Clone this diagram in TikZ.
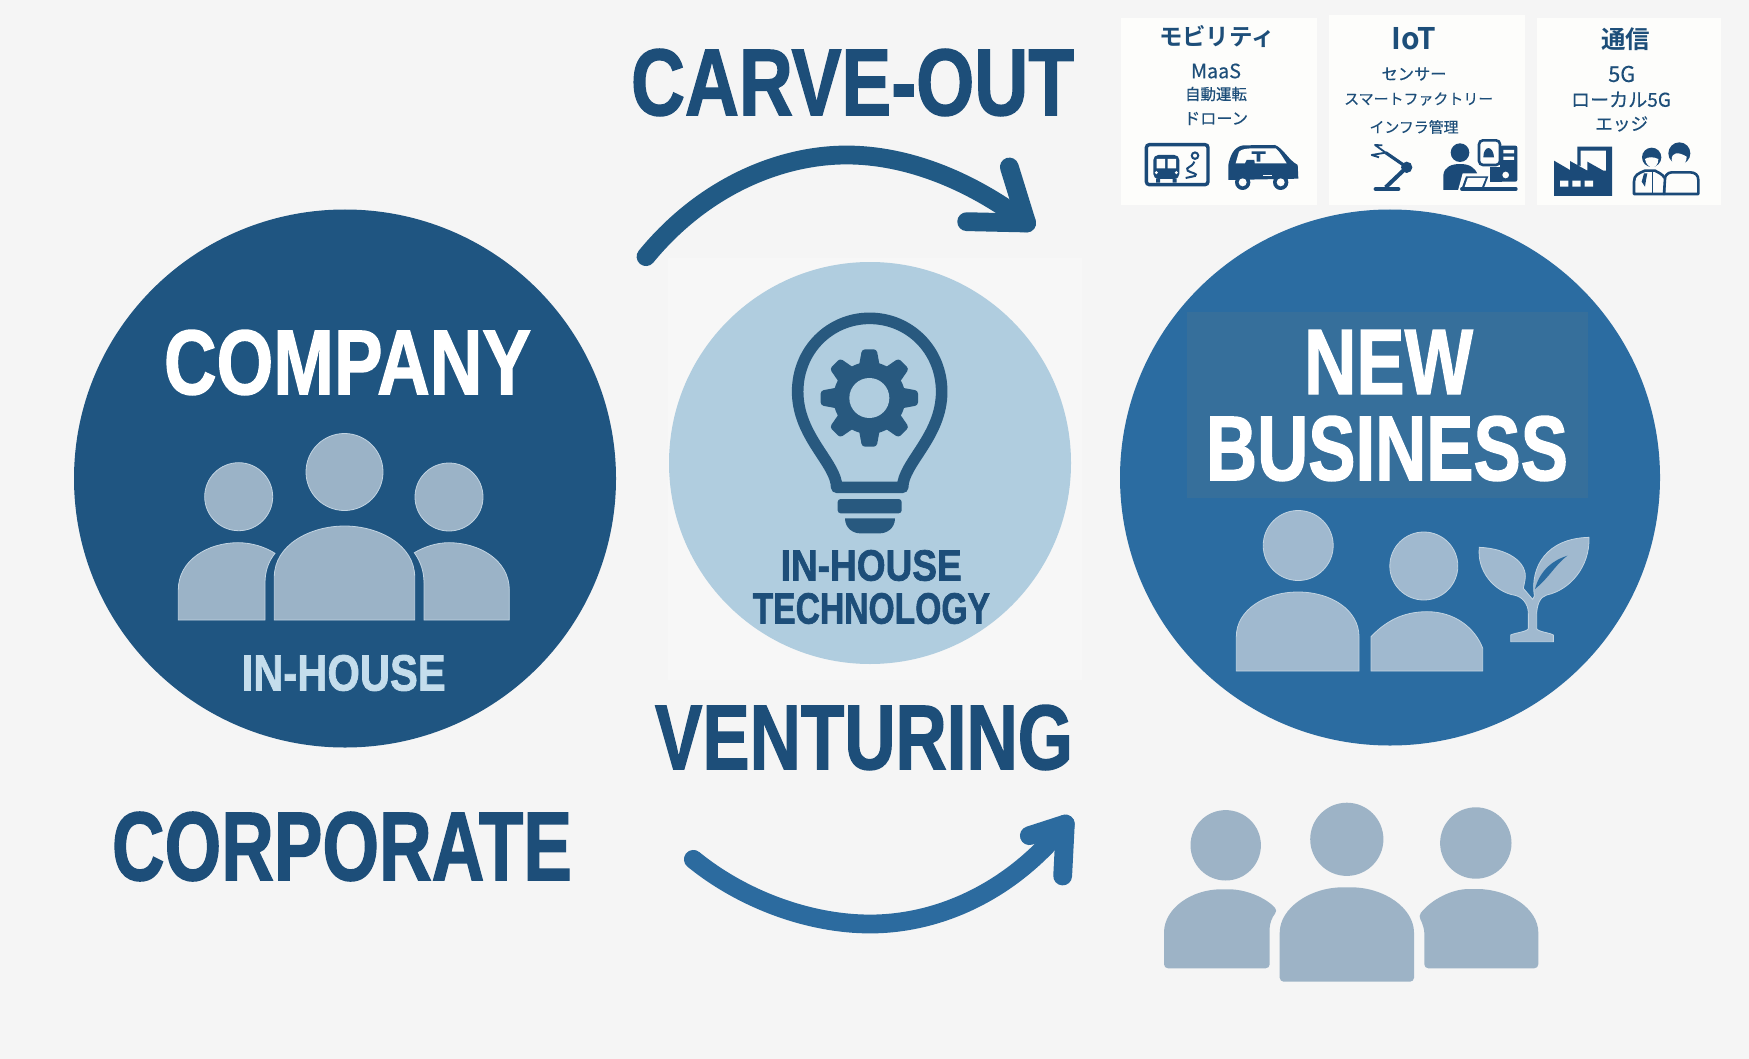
\documentclass[tikz,border=0pt]{standalone}
\usepackage{fontspec}
\setmainfont{Liberation Sans}
\newfontfamily\headfont[FakeBold=1.6]{Liberation Sans Bold}
\newfontfamily\jpfont[FakeBold=0.35]{Noto Sans CJK JP}
\newfontfamily\jpboldfont{Noto Sans CJK JP Bold}
\definecolor{bgc}{HTML}{F5F5F5}
\definecolor{paneC}{HTML}{F7F7F7}
\definecolor{cardC}{HTML}{FDFDFB}
\definecolor{darkC}{HTML}{1F5581}
\definecolor{midC}{HTML}{2B6CA1}
\definecolor{bandC}{HTML}{366F9B}
\definecolor{paleC}{HTML}{B0CDDF}
\definecolor{inkC}{HTML}{1D4E79}
\definecolor{iconC}{HTML}{1B4A78}
\definecolor{bulbC}{HTML}{28597F}
\definecolor{compP}{HTML}{9BB3C7}
\definecolor{newP}{HTML}{A0B9CF}
\definecolor{botP}{HTML}{9DB3C6}
\definecolor{rimC}{HTML}{C2D4E2}
\definecolor{tagC}{HTML}{C4DDEC}
\definecolor{arrowA}{HTML}{215A85}
\definecolor{arrowB}{HTML}{2C6B9F}
\tikzset{
  x=0.5pt,y=-0.5pt,
  lbl/.style={inner sep=0pt,outer sep=0pt},
  card/.style={fill=cardC},
  arrowline/.style={line width=9.4pt,line cap=round,line join=round},
  compfill/.style={fill=compP,draw=rimC,line width=0.4pt},
  newfill/.style={fill=newP,draw=rimC,line width=0.4pt},
  zoomed/.style={scale=0.33333},
}
% fitted label: name, x1, x2, y1, y2, colour, text
\newcommand{\fitlbl}[7]{%
  \pgfmathsetlengthmacro\lw{(#3-#2)*0.5}%
  \pgfmathsetlengthmacro\lh{(#5-#4)*0.5}%
  \node[lbl,text=#6] (#1) at ({(#2+#3)/2},{(#4+#5)/2})
    {\resizebox*{\lw}{\lh}{\headfont\fontsize{40}{44}\selectfont #7}};}
% Japanese label: name, cx, cy, width in px, font switch, text
\newcommand{\jplbl}[6]{%
  \pgfmathsetlengthmacro\lw{#4*0.5}%
  \node[lbl,text=inkC] (#1) at (#2,#3)
    {\resizebox{\lw}{!}{#5\fontsize{20}{24}\selectfont #6}};}
\begin{document}
\begin{tikzpicture}
\useasboundingbox (0,0) rectangle (1749,1059);
\fill[bgc] (0,0) rectangle (1749,1059);
\fill[paneC] (668,258) rectangle (1082,680);

% main circles
\fill[darkC] (345,478.5) ellipse [x radius=271,y radius=269];
\fill[midC] (1390,477.5) ellipse [x radius=270,y radius=268];
\fill[paleC] (870,463) circle [radius=201];
\fill[bandC] (1187,312) rectangle (1588,498);

% company people
\path[compfill] (238.7,496.7) circle [radius=34];
\path[compfill] (344.5,472) circle [radius=38.5];
\path[compfill] (449,497) circle [radius=34];
\path[compfill] (178.3,620) -- (178.3,590) .. controls (178.3,560) and (208,542.7) .. (238,542.7) .. controls (252,542.7) and (265,547) .. (275,553.3) .. controls (268,562) and (265,572) .. (265,583) -- (265,620) -- cycle;
\path[compfill] (274.3,620) -- (274.3,577) .. controls (274.3,545) and (310,526) .. (344.5,526) .. controls (379,526) and (414.7,545) .. (414.7,577) -- (414.7,620) -- cycle;
\path[compfill] (509.3,620) -- (509.3,590) .. controls (509.3,560) and (479,542.7) .. (449,542.7) .. controls (436,542.7) and (424,547) .. (414.3,552.7) .. controls (421,562) and (424,572) .. (424,583) -- (424,620) -- cycle;

% new business people
\path[newfill] (1298.2,545.5) circle [radius=35];
\path[newfill] (1423.8,566) circle [radius=34];
\path[newfill] (1236.3,671) -- (1236.3,636.7) .. controls (1236.3,610) and (1265,592) .. (1298,592) .. controls (1331,592) and (1359,610) .. (1359,636.7) -- (1359,671) -- cycle;
\path[newfill] (1371,671) -- (1371,636.7) .. controls (1385,622) and (1402,611.7) .. (1427,611.7) .. controls (1455,611.7) and (1475,628) .. (1482.7,648.3) -- (1482.7,671) -- cycle;

% plant
\begin{scope}[shift={(1200,490)},zoomed]
\path[newfill] (932,455) -- (932,435) .. controls (945,428) and (985,425) .. (985,415) -- (985,370) .. controls (985,340) and (965,320) .. (945,316) .. controls (880,305) and (830,240) .. (838,172) .. controls (920,175) and (985,215) .. (975,270) -- (970,295) -- (998,328) -- (1003,318) .. controls (990,230) and (1040,145) .. (1167,142) .. controls (1170,230) and (1110,300) .. (1040,315) .. controls (1020,320) and (1010,345) .. (1010,375) -- (1010,415) .. controls (1010,425) and (1050,428) .. (1060,435) -- (1060,455) -- cycle;
\fill[midC] (1005,297) .. controls (1020,240) and (1060,210) .. (1102,197) .. controls (1065,225) and (1050,260) .. (1005,297) -- cycle;
\end{scope}

% bottom people
\fill[botP] (1225.7,845.3) circle [radius=35.2];
\fill[botP] (1346.8,839.3) circle [radius=36.6];
\fill[botP] (1475.8,843) circle [radius=35.7];
\fill[botP,rounded corners=2pt] (1164,968.3) -- (1164,936.7) .. controls (1164,908) and (1192,889.3) .. (1225,889.3) .. controls (1245,889.3) and (1265,897) .. (1277.7,910.7) .. controls (1272,917) and (1269.7,924) .. (1269.7,931.7) -- (1269.7,968.3) -- cycle;
\fill[botP,rounded corners=2pt] (1279.7,981.7) -- (1279.7,936.7) .. controls (1279.7,908) and (1310,887.3) .. (1347,887.3) .. controls (1384,887.3) and (1414,908) .. (1414,936.7) -- (1414,981.7) -- cycle;
\fill[botP,rounded corners=2pt] (1538.3,968.3) -- (1538.3,936.7) .. controls (1538.3,908) and (1508,889) .. (1473,889) .. controls (1452,889) and (1432,899) .. (1418.3,916) .. controls (1422,922) and (1424.3,929) .. (1424.3,936.7) -- (1424.3,968.3) -- cycle;

% bulb
\begin{scope}[shift={(660,250)},zoomed]
\draw[bulbC,line width=5.8pt,line join=round] (530,712) .. controls (530,640) and (413,560) .. (413,425) .. controls (413,300) and (510,205) .. (629,205) .. controls (748,205) and (845,300) .. (845,425) .. controls (845,560) and (728,640) .. (728,712) -- cycle;
\fill[bulbC,rounded corners=1.5pt] (533,747) rectangle (725,790);
\fill[bulbC] (555,805) -- (705,805) .. controls (705,835) and (680,850) .. (660,850) -- (600,850) .. controls (580,850) and (555,835) .. (555,805) -- cycle;
\fill[bulbC] (628,444) circle [radius=108];
\foreach \a in {0,45,...,315}{
  \fill[bulbC,rotate around={\a:(628,444)},rounded corners=1.5pt] (596,352) -- (606,298) -- (650,298) -- (660,352) -- cycle;
}
\fill[paleC] (628,444) circle [radius=60];
\end{scope}

% arrows
\begin{scope}[shift={(620,130)},zoomed]
\coordinate (upStart) at (78,380);
\coordinate (upApex) at (680,75);
\coordinate (upEnd) at (1220,279);
\coordinate (upBarbA) at (1168,111);
\coordinate (upBarbB) at (1040,275);
\draw[arrowA,arrowline] (upStart) .. controls (250,170) and (480,75) .. (upApex) .. controls (860,75) and (1050,150) .. (upEnd);
\draw[arrowA,arrowline] (upBarbA) -- (upEnd) -- (upBarbB);
\end{scope}
\begin{scope}[shift={(670,800)},zoomed]
\coordinate (lowStart) at (70,178);
\coordinate (lowApex) at (600,372);
\coordinate (lowEnd) at (1186,72);
\coordinate (lowBarbA) at (1078,107);
\coordinate (lowBarbB) at (1178,228);
\draw[arrowB,arrowline] (lowStart) .. controls (220,300) and (420,372) .. (lowApex) .. controls (800,372) and (1020,280) .. (lowEnd);
\draw[arrowB,arrowline] (lowBarbA) -- (lowEnd) -- (lowBarbB);
\end{scope}

% large labels
\fitlbl{carve}{631}{1074}{49}{116}{inkC}{CARVE-OUT}
\fitlbl{company}{164}{531}{330}{395}{white}{COMPANY}
\fitlbl{inhouse}{241.7}{445.7}{655}{691}{tagC}{IN-HOUSE}
\fitlbl{newlbl}{1304}{1473}{330}{394}{white}{NEW}
\fitlbl{business}{1206}{1568}{416}{481}{white}{BUSINESS}
\fitlbl{venturing}{655}{1073}{705}{770}{inkC}{VENTURING}
\fitlbl{corporate}{112}{572}{812}{881}{inkC}{CORPORATE}
\fitlbl{tech1}{780.7}{961.7}{550}{581}{inkC}{IN-HOUSE}
\fitlbl{tech2}{752.7}{990}{593}{624}{inkC}{TECHNOLOGY}

% cards
\fill[card] (1121,18) rectangle (1317,205);
\fill[card] (1329,15) rectangle (1525,205);
\fill[card] (1537,18) rectangle (1721,205);

\jplbl{mobi}{1217}{36.5}{116}{\jpboldfont}{モビリティ}
\jplbl{maas}{1216}{71}{50}{\jpfont}{MaaS}
\jplbl{auto}{1216}{94}{62}{\jpfont}{自動運転}
\jplbl{drone}{1216}{118.5}{64}{\jpfont}{ドローン}
\jplbl{iot}{1414}{38.5}{45}{\jpboldfont}{IoT}
\jplbl{sensor}{1414}{74}{65}{\jpfont}{センサー}
\jplbl{smart}{1418.7}{99}{149}{\jpfont}{スマートファクトリー}
\jplbl{infra}{1414}{127}{89}{\jpfont}{インフラ管理}
\jplbl{tsushin}{1625.5}{39}{49}{\jpboldfont}{通信}
\jplbl{fiveg}{1621.7}{74}{27}{\jpfont}{5G}
\jplbl{local}{1621}{99.5}{100}{\jpfont}{ローカル5G}
\jplbl{edge}{1621.7}{124}{53}{\jpfont}{エッジ}

% icons card 1
\begin{scope}[shift={(1115,10)},zoomed]
\draw[iconC,line width=1.7pt,rounded corners=1.5pt] (94,404) rectangle (279,524);
\fill[iconC,rounded corners=2.5pt] (115,435) rectangle (193,507);
\fill[iconC] (123,505) rectangle (135,518) (173,505) rectangle (185,518);
\fill[cardC] (125,447) rectangle (150,475) (158,447) rectangle (183,475);
\fill[cardC] (124,488) circle [radius=5] (184,488) circle [radius=5];
\fill[iconC] (240,437) circle [radius=13];
\fill[cardC] (240,437) circle [radius=6];
\draw[iconC,line width=1pt] (238,455) .. controls (230,475) and (210,470) .. (218,482) .. controls (230,490) and (250,490) .. (240,498) -- (212,504);
\fill[iconC] (340,506) -- (340,465) .. controls (345,440) and (355,410) .. (385,406) -- (480,405) .. controls (505,415) and (520,450) .. (548,465) -- (550,506) -- (340,510) -- cycle;
\fill[cardC] (362,460) -- (372,425) .. controls (380,416) and (400,415) .. (420,415) -- (482,415) .. controls (495,425) and (505,445) .. (515,460) -- cycle;
\fill[iconC] (410,424) rectangle (452,432) (425,432) rectangle (436,455);
\fill[iconC] (390,460) -- (395,450) -- (418,450) -- (420,470) -- (390,470) -- cycle;
\draw[cardC,line width=0.6pt] (445,497) -- (470,497);
\fill[iconC] (383,517) circle [radius=23] (497,517) circle [radius=23];
\fill[cardC] (383,517) circle [radius=12] (497,517) circle [radius=12];
\end{scope}

% icons card 2
\begin{scope}[shift={(1325,10)},zoomed]
\draw[iconC,line width=2.4pt,line cap=round] (153,537) -- (219,537);
\draw[iconC,line width=2pt] (182,532) -- (245,472);
\draw[iconC,line width=1.6pt] (240,468) -- (182,428);
\fill[iconC] (245,472) circle [radius=17];
\draw[iconC,line width=0.9pt,line join=round] (182,428) -- (150,405) -- (172,406) (182,428) -- (140,435) -- (162,442);
\fill[iconC] (405,428) circle [radius=28];
\fill[iconC] (355,540) -- (355,495) .. controls (358,470) and (380,462) .. (405,462) .. controls (430,462) and (450,470) .. (458,495) -- (430,540) -- cycle;
\fill[iconC,rounded corners=1pt] (525,407) rectangle (577,515);
\fill[iconC] (495,470) rectangle (530,515);
\fill[cardC] (535,420) rectangle (567,430) (535,440) rectangle (567,450);
\fill[cardC] (542,495) circle [radius=10];
\draw[iconC,fill=cardC,line width=1.3pt,rounded corners=2pt] (462,391) rectangle (525,465);
\fill[iconC] (475,442) .. controls (475,405) and (505,405) .. (507,442) -- cycle;
\fill[cardC] (413,490) -- (495,490) -- (478,545) -- (398,545) -- cycle;
\fill[iconC] (423,499) -- (490,499) -- (474,540) -- (408,540) -- cycle;
\fill[cardC] (428,504) -- (482,504) -- (470,533) -- (418,533) -- cycle;
\draw[iconC,line width=1.6pt,line cap=round] (410,537) -- (573,537);
\end{scope}

% icons card 3
\begin{scope}[shift={(1530,10)},zoomed]
\fill[iconC] (72,558) -- (72,452) -- (120,480) -- (120,453) -- (172,482) -- (172,455) -- (220,482) -- (228,482) -- (228,422) -- (152,422) -- (152,468) -- (142,465) -- (142,410) -- (246,410) -- (246,558) -- cycle;
\fill[cardC] (90,512) rectangle (115,530) (127,512) rectangle (152,530) (164,512) rectangle (189,530);
\draw[iconC,fill=cardC,line width=1.3pt,line join=round] (402,552) -- (505,552) -- (505,510) .. controls (505,495) and (495,487) .. (480,487) -- (425,487) .. controls (412,487) and (402,500) .. (402,515) -- cycle;
\fill[iconC] (448,430) circle [radius=33];
\fill[cardC] (425,450) .. controls (425,425) and (445,425) .. (470,440) .. controls (470,465) and (445,480) .. (430,465) -- cycle;
\draw[iconC,fill=cardC,line width=1.3pt,line join=round] (312,552) -- (402,552) -- (405,505) .. controls (395,490) and (385,488) .. (375,482) -- (345,482) .. controls (325,490) and (312,495) .. (312,515) -- cycle;
\fill[iconC] (365,442) circle [radius=29];
\fill[cardC] (345,447) .. controls (355,440) and (370,440) .. (385,447) .. controls (385,480) and (350,480) .. (345,447) -- cycle;
\fill[iconC] (342,490) -- (352,490) -- (348,510) -- (345,530) -- (335,515) -- cycle;
\draw[iconC,line width=0.6pt] (368,482) -- (368,552);
\end{scope}
\end{tikzpicture}
\end{document}
